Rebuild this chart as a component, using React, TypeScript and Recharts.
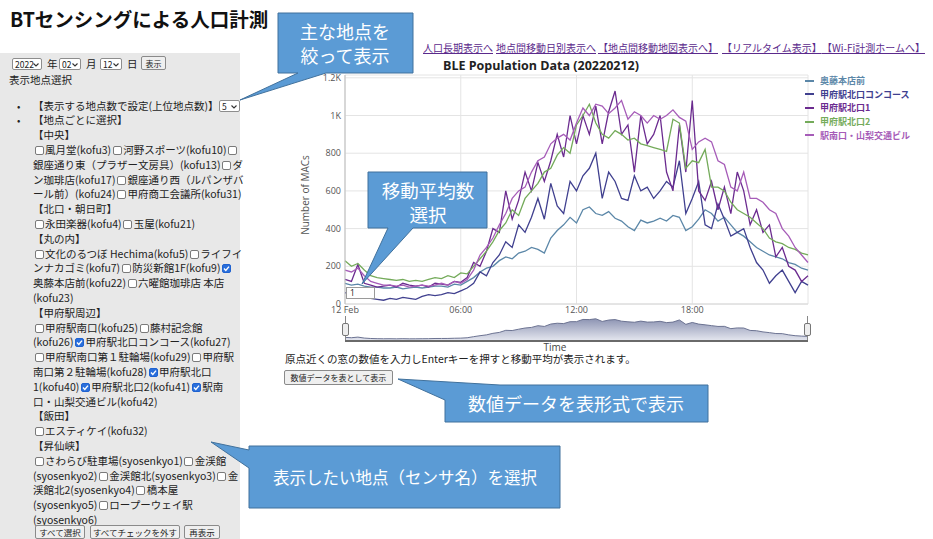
import React from 'react';
import { LineChart, Line, XAxis, YAxis, CartesianGrid, AreaChart, Area } from 'recharts';

// 20分ごとの値 (0:00 〜 24:00)
const okudo = [
  110, 100, 105, 95, 90, 90, 85, 85, 90, 80, 85, 90,
  85, 90, 95, 95, 90, 105, 100, 120, 140, 170, 190, 200,
  230, 250, 240, 270, 280, 300, 290, 270, 350, 390, 420, 460,
  430, 500, 515, 480, 470, 490, 455, 440, 410, 390, 445, 430,
  440, 455, 440, 470, 460, 390, 410, 450, 500, 480, 440, 460,
  420, 380, 360, 330, 300, 280, 260, 250, 240, 220, 210, 190,
  180,
];
const concourse = [
  60, 50, 45, 40, 30, 25, 20, 30, 25, 35, 30, 25,
  40, 50, 45, 50, 60, 55, 70, 85, 110, 170, 150, 220,
  260, 330, 300, 420, 380, 460, 560, 450, 640, 520, 480, 650,
  600, 680, 720, 800, 560, 700, 650, 560, 550, 680, 600, 620,
  560, 600, 650, 620, 760, 480, 560, 650, 420, 400, 530, 450,
  360, 380, 400, 300, 220, 180, 110, 150, 180, 120, 60, 120,
  100,
];
const north1 = [
  130, 120, 210, 110, 100, 90, 95, 100, 90, 110, 100, 95,
  100, 90, 110, 105, 100, 120, 115, 140, 220, 200, 280, 400,
  380, 600, 450, 550, 700, 600, 750, 650, 760, 900, 780, 1000,
  850, 1000, 900, 1050, 850, 1020, 1130, 900, 950, 700, 1000, 850,
  900, 1000, 700, 600, 950, 700, 1080, 600, 550, 650, 500, 620,
  480, 700, 600, 420, 500, 380, 420, 250, 300, 200, 180, 120,
  150,
];
const north2 = [
  230, 200, 215, 180, 150, 140, 135, 130, 125, 130, 120, 125,
  120, 130, 140, 135, 150, 140, 165, 160, 200, 240, 280, 330,
  390, 430, 500, 470, 560, 600, 640, 700, 720, 790, 830, 800,
  950, 1000, 1060, 960, 900, 880, 920, 900, 870, 880, 850, 840,
  830, 820, 810, 980, 960, 720, 760, 750, 820, 620, 620, 600,
  540, 500, 480, 460, 430, 400, 350, 330, 320, 300, 290, 270,
  260,
];
const south = [
  180, 170, 190, 150, 120, 110, 100, 100, 95, 100, 90, 95,
  100, 95, 100, 110, 100, 120, 110, 130, 180, 260, 300, 350,
  420, 480, 560, 600, 620, 700, 760, 780, 850, 880, 900, 870,
  960, 1040, 1000, 1060, 1050, 1010, 1040, 1080, 980, 1020, 1000, 960,
  1000, 980, 1000, 1030, 990, 970, 820, 860, 880, 860, 760, 740,
  620, 600, 700, 560, 560, 540, 500, 480, 400, 360, 300, 260,
  220,
];

const seriesKeys = ['okudo', 'concourse', 'north1', 'north2', 'south'];
const seriesNames = ['奥藤本店前', '甲府駅北口コンコース', '甲府駅北口1', '甲府駅北口2', '駅南口・山梨交通ビル'];
const seriesColors = ['#5b87a8', '#40408f', '#6b2b8f', '#74ab5a', '#a65cb8'];

const xTicks = [0, 6, 12, 18];
const xTickLabels = ['12 Feb', '06:00', '12:00', '18:00'];
const yTicks = [0, 200, 400, 600, 800, 1000, 1200];

const links = ['人口長期表示へ', '地点間移動日別表示へ', '【地点間移動地図表示へ】', '【リアルタイム表示】', '【Wi-Fi計測ホームへ】'];
const linkX = [423, 496, 598, 722, 822];

const panelLines = [
  '【中央】',
  '□風月堂(kofu3)□河野スポーツ(kofu10)□',
  '銀座通り東（プラザー文房具）(kofu13)□ダ',
  'ン珈琲店(kofu17)□銀座通り西（ルパンザバ',
  'ール前）(kofu24)□甲府商工会議所(kofu31)',
  '【北口・朝日町】',
  '□永田楽器(kofu4)□玉屋(kofu21)',
  '【丸の内】',
  '□文化のるつぼ Hechima(kofu5)□ライフイ',
  'ンナカゴミ(kofu7)□防災新館1F(kofu9)■',
  '奥藤本店前(kofu22)□六曜館珈琲店 本店',
  '(kofu23)',
  '【甲府駅周辺】',
  '□甲府駅南口(kofu25)□藤村記念館',
  '(kofu26)■甲府駅北口コンコース(kofu27)',
  '□甲府駅南口第１駐輪場(kofu29)□甲府駅',
  '南口第２駐輪場(kofu28)■甲府駅北口',
  '1(kofu40)■甲府駅北口2(kofu41)■駅南',
  '口・山梨交通ビル(kofu42)',
  '【飯田】',
  '□エスティケイ(kofu32)',
  '【昇仙峡】',
  '□さわらび駐車場(syosenkyo1)□金渓館',
  '(syosenkyo2)□金渓館北(syosenkyo3)□金',
  '渓館北2(syosenkyo4)□橋本屋',
  '(syosenkyo5)□ロープーウェイ駅',
  '(syosenkyo6)',
];

const chartData = okudo.map((_, i) => ({
  h: i / 3,
  okudo: okudo[i],
  concourse: concourse[i],
  north1: north1[i],
  north2: north2[i],
  south: south[i],
  total: okudo[i] + concourse[i] + north1[i] + north2[i] + south[i],
}));

const JP = '"Noto Sans CJK JP", "Noto Sans", sans-serif';
const LINE_H = 14.8;
const LIST_TOP = 106 - LINE_H / 2;

const Cb = ({ on }: { on?: boolean }) => (
  <span
    style={{
      display: 'inline-block', width: 9, height: 9, boxSizing: 'border-box',
      border: on ? '1px solid #1f62d0' : '1px solid #7a7a7a',
      background: on ? '#2a6fdb' : '#fff', borderRadius: 2,
      margin: '0 1.5px', verticalAlign: '-1px', position: 'relative',
    }}
  >
    {on && (
      <svg width={9} height={9} style={{ position: 'absolute', left: -1, top: -1 }}>
        <path d="M2 4.6 L3.8 6.4 L7 2.6" stroke="#fff" strokeWidth={1.4} fill="none" />
      </svg>
    )}
  </span>
);

const renderLine = (s: string) =>
  s.split(/([□■])/).map((part, i) =>
    part === '□' ? <Cb key={i} /> : part === '■' ? <Cb key={i} on /> : <span key={i}>{part}</span>
  );

const Sel = ({ left, top, width, text }: { left: number; top: number; width: number; text: string }) => (
  <div
    style={{
      position: 'absolute', left, top, width, height: 12, boxSizing: 'border-box',
      border: '1px solid #8d8d8d', background: '#fff', borderRadius: 2,
      fontSize: 8.5, lineHeight: '10px', paddingLeft: 2, color: '#222',
    }}
  >
    {text}
    <svg width={6} height={4} style={{ position: 'absolute', right: 2, top: 3.5 }}>
      <path d="M0.5 0.5 L3 3 L5.5 0.5" stroke="#333" fill="none" strokeWidth={1.1} />
    </svg>
  </div>
);

const Btn = ({ left, top, width, height, text, fontSize }: any) => (
  <div
    style={{
      position: 'absolute', left, top, width, height, boxSizing: 'border-box',
      border: '1px solid #8a8a8a', background: '#efefef', borderRadius: 2,
      fontSize, display: 'flex', alignItems: 'center', justifyContent: 'center',
      color: '#222', whiteSpace: 'nowrap',
    }}
  >
    {text}
  </div>
);

const abs = (left: number, top: number, extra: React.CSSProperties = {}): React.CSSProperties => ({
  position: 'absolute', left, top, whiteSpace: 'nowrap', ...extra,
});

export default function App() {
  return (
    <div
      style={{
        position: 'absolute', left: 0, top: 0, width: 933, height: 539,
        overflow: 'hidden', background: '#fff', fontFamily: JP, color: '#222',
      }}
    >
      {/* タイトル */}
      <div style={abs(10, 8, { fontSize: 19.5, fontWeight: 700, lineHeight: '22px', color: '#111' })}>
        BTセンシングによる人口計測
      </div>

      {/* 左パネル */}
      <div style={{ position: 'absolute', left: 0, top: 53, width: 240, height: 486, background: '#e8e8e8' }} />
      <Sel left={12} top={58} width={30} text="2022" />
      <div style={abs(47, 57, { fontSize: 10.5, lineHeight: '14px' })}>年</div>
      <Sel left={59} top={58} width={22} text="02" />
      <div style={abs(86, 57, { fontSize: 10.5, lineHeight: '14px' })}>月</div>
      <Sel left={100} top={58} width={22} text="12" />
      <div style={abs(127, 57, { fontSize: 10.5, lineHeight: '14px' })}>日</div>
      <Btn left={141} top={56} width={25} height={14} text="表示" fontSize={8} />
      <div style={abs(9, 73, { fontSize: 10.5, lineHeight: '14px' })}>表示地点選択</div>

      <div style={abs(17, LIST_TOP, { fontSize: 10, lineHeight: `${LINE_H}px` })}>•</div>
      <div style={abs(33, LIST_TOP, { fontSize: 10.5, lineHeight: `${LINE_H}px` })}>【表示する地点数で設定(上位地点数)】</div>
      <Sel left={219} top={LIST_TOP + 1.5} width={21} text="5" />
      <div style={abs(17, LIST_TOP + LINE_H, { fontSize: 10, lineHeight: `${LINE_H}px` })}>•</div>
      <div style={abs(33, LIST_TOP + LINE_H, { fontSize: 10.5, lineHeight: `${LINE_H}px` })}>【地点ごとに選択】</div>
      {panelLines.map((s, i) => (
        <div key={i} style={abs(33, LIST_TOP + (i + 2) * LINE_H, { fontSize: 10.5, lineHeight: `${LINE_H}px` })}>
          {renderLine(s)}
        </div>
      ))}
      <Btn left={35} top={525} width={50} height={14} text="すべて選択" fontSize={8.5} />
      <Btn left={90} top={525} width={90} height={14} text="すべてチェックを外す" fontSize={8.5} />
      <Btn left={184} top={525} width={36} height={14} text="再表示" fontSize={8.5} />

      {/* 上部リンク */}
      {links.map((t, i) => (
        <div key={t} style={abs(linkX[i], 41, { fontSize: 10, lineHeight: '13px', color: '#5b2a8c', textDecoration: 'underline' })}>
          {t}
        </div>
      ))}

      {/* グラフタイトル */}
      <div
        style={abs(541, 57, {
          transform: 'translateX(-50%)', fontFamily: '"Open Sans", sans-serif',
          fontWeight: 700, fontSize: 12.5, lineHeight: '17px', color: '#222',
        })}
      >
        BLE Population Data (20220212)
      </div>

      {/* メイングラフ */}
      <div style={{ position: 'absolute', left: 280, top: 50 }}>
        <LineChart width={540} height={270} data={chartData} margin={{ top: 25, right: 12, bottom: 0, left: 35 }}>
          <CartesianGrid stroke="#e4e4e4" />
          <XAxis
            dataKey="h" type="number" domain={[0, 24]} ticks={xTicks} height={16}
            tickFormatter={(v: number) => xTickLabels[xTicks.indexOf(v)]}
            tickLine={false} tickSize={0} tickMargin={3}
            axisLine={{ stroke: '#d8d8d8' }}
            tick={{ fontSize: 9, fill: '#555', fontFamily: '"Open Sans", sans-serif' }}
          />
          <YAxis
            type="number" domain={[0, 1215]} ticks={yTicks} width={30}
            tickFormatter={(v: number) => (v >= 1000 ? `${v / 1000}K` : String(v))}
            tickLine={false} tickSize={0} tickMargin={4}
            axisLine={{ stroke: '#bdbdbd' }}
            tick={{ fontSize: 9, fill: '#555', fontFamily: '"Open Sans", sans-serif' }}
          />
          {seriesKeys.map((k, i) => (
            <Line
              key={k} dataKey={k} name={seriesNames[i]} type="linear"
              stroke={seriesColors[i]} strokeWidth={1.3} dot={false} isAnimationActive={false}
            />
          ))}
        </LineChart>
      </div>

      {/* 凡例 */}
      {seriesNames.map((n, i) => (
        <React.Fragment key={n}>
          <div style={{ position: 'absolute', left: 805, top: 79.5 + i * 13.7, width: 9, height: 2, background: seriesColors[i] }} />
          <div style={abs(820, 74 + i * 13.7, { fontSize: 9, lineHeight: '13px', color: seriesColors[i], fontWeight: 700 })}>{n}</div>
        </React.Fragment>
      ))}

      {/* Y軸ラベル */}
      <div
        style={abs(305, 195, {
          transform: 'translate(-50%, -50%) rotate(-90deg)', fontSize: 10,
          color: '#555', fontFamily: '"Open Sans", sans-serif',
        })}
      >
        Number of MACs
      </div>

      {/* 移動平均入力 */}
      <div
        style={{
          position: 'absolute', left: 346, top: 287, width: 29, height: 12, boxSizing: 'border-box',
          border: '1px solid #9a9a9a', background: '#fff', fontSize: 8.5, lineHeight: '10px', paddingLeft: 3,
          fontFamily: '"Open Sans", sans-serif',
        }}
      >
        1
      </div>

      {/* ナビゲーター */}
      <div style={{ position: 'absolute', left: 345, top: 317 }}>
        <AreaChart width={463} height={24} data={chartData} margin={{ top: 0, right: 0, bottom: 0, left: 0 }}>
          <defs>
            <linearGradient id="navFill" x1="0" y1="0" x2="0" y2="1">
              <stop offset="0%" stopColor="#8d94b3" />
              <stop offset="100%" stopColor="#e6e8f0" />
            </linearGradient>
          </defs>
          <XAxis dataKey="h" type="number" domain={[0, 24]} hide />
          <YAxis domain={[0, 4700]} hide />
          <Area dataKey="total" type="linear" stroke="#6c7392" strokeWidth={1} fill="url(#navFill)" fillOpacity={1} isAnimationActive={false} />
        </AreaChart>
      </div>
      <div style={{ position: 'absolute', left: 345, top: 316, width: 1, height: 26, background: '#888' }} />
      <div style={{ position: 'absolute', left: 807, top: 316, width: 1, height: 26, background: '#888' }} />
      <div style={{ position: 'absolute', left: 345, top: 340, width: 463, height: 2, background: '#6a6a6a' }} />
      <div style={{ position: 'absolute', left: 342, top: 323, width: 7, height: 13, boxSizing: 'border-box', border: '1px solid #777', borderRadius: 2, background: '#eee' }} />
      <div style={{ position: 'absolute', left: 804, top: 323, width: 7, height: 13, boxSizing: 'border-box', border: '1px solid #777', borderRadius: 2, background: '#eee' }} />
      <div style={abs(555, 342, { transform: 'translateX(-50%)', fontSize: 10, lineHeight: '11px', color: '#444', fontFamily: '"Open Sans", sans-serif' })}>
        Time
      </div>

      <div style={abs(285, 353, { fontSize: 10.5, lineHeight: '12px' })}>
        原点近くの窓の数値を入力しEnterキーを押すと移動平均が表示されます。
      </div>
      <Btn left={284} top={370} width={109} height={15} text="数値データを表として表示" fontSize={8} />

      {/* 吹き出し */}
      <svg width={933} height={539} style={{ position: 'absolute', left: 0, top: 0, pointerEvents: 'none' }}>
        <g fill="#5b9bd5" stroke="#41719c" strokeWidth={1}>
          <path d="M278 13 H413 V73 H326 L240 100 L298 73 H278 Z" />
          <path d="M368 172 H487 V228 H413 L362 284 L388 228 H368 Z" />
          <path d="M500 385 H708 V422 H445 V400 L398 379 Z" />
          <path d="M249 446 H560 V508 H249 V468 L211 442 L249 450 Z" />
        </g>
        <g fill="#fff" fontFamily={JP} textAnchor="middle" dominantBaseline="central">
          <text x={345} y={31} fontSize={18}>主な地点を</text>
          <text x={345} y={55} fontSize={18}>絞って表示</text>
          <text x={428} y={190} fontSize={18.5}>移動平均数</text>
          <text x={428} y={214} fontSize={18.5}>選択</text>
          <text x={576} y={403} fontSize={18}>数値データを表形式で表示</text>
          <text x={405} y={477} fontSize={16.5}>表示したい地点（センサ名）を選択</text>
        </g>
      </svg>
    </div>
  );
}
